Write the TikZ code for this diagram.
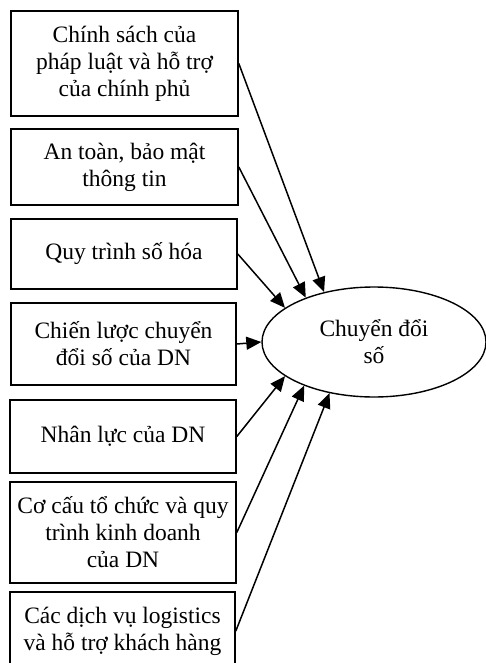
\documentclass[tikz,border=0pt]{standalone}
\usepackage{fontspec}
\setmainfont{Liberation Serif}
\usetikzlibrary{arrows.meta,shapes.geometric}
\begin{document}
\begin{tikzpicture}[x=1pt,y=-1pt,
  box/.style={draw,line width=1.6pt,inner sep=0pt,align=center,
    font=\fontsize{23.5}{27}\selectfont},
  arr/.style={line width=1.5pt,-{Triangle[length=15pt,width=13pt]}}]
\useasboundingbox (0,0) rectangle (485,663);
\node[box,minimum width=227pt,minimum height=105pt] (b1) at (124.5,63.5) {Chính sách của\\pháp luật và hỗ trợ\\của chính phủ};
\node[box,minimum width=227pt,minimum height=76pt] (b2) at (124.5,167) {An toàn, bảo mật\\thông tin};
\node[box,minimum width=226pt,minimum height=70pt] (b3) at (124,254) {Quy trình số hóa};
\node[box,minimum width=225pt,minimum height=82pt] (b4) at (123.5,344) {Chiến lược chuyển\\đổi số của DN};
\node[box,minimum width=226pt,minimum height=73pt] (b5) at (123,436.5) {Nhân lực của DN};
\node[box,minimum width=226pt,minimum height=101pt] (b6) at (123,532.5) {Cơ cấu tổ chức và quy\\trình kinh doanh\\của DN};
\node[box,minimum width=225pt,minimum height=78pt] (b7) at (122.5,631) {Các dịch vụ logistics\\và hỗ trợ khách hàng};
\node[box,ellipse,line width=1.4pt,minimum width=224pt,minimum height=110pt] (e) at (374,342) {Chuyển đổi\\số};
\draw[arr] (b1.east) -- (e.135);
\draw[arr] (b2.east) -- (e.147);
\draw[arr] (b3.east) -- (e.159);
\draw[arr] (b4.east) -- (e.180);
\draw[arr] (b5.east) -- (e.201);
\draw[arr] (b6.east) -- (e.212);
\draw[arr] (b7.east) -- (e.229);
\end{tikzpicture}
\end{document}
